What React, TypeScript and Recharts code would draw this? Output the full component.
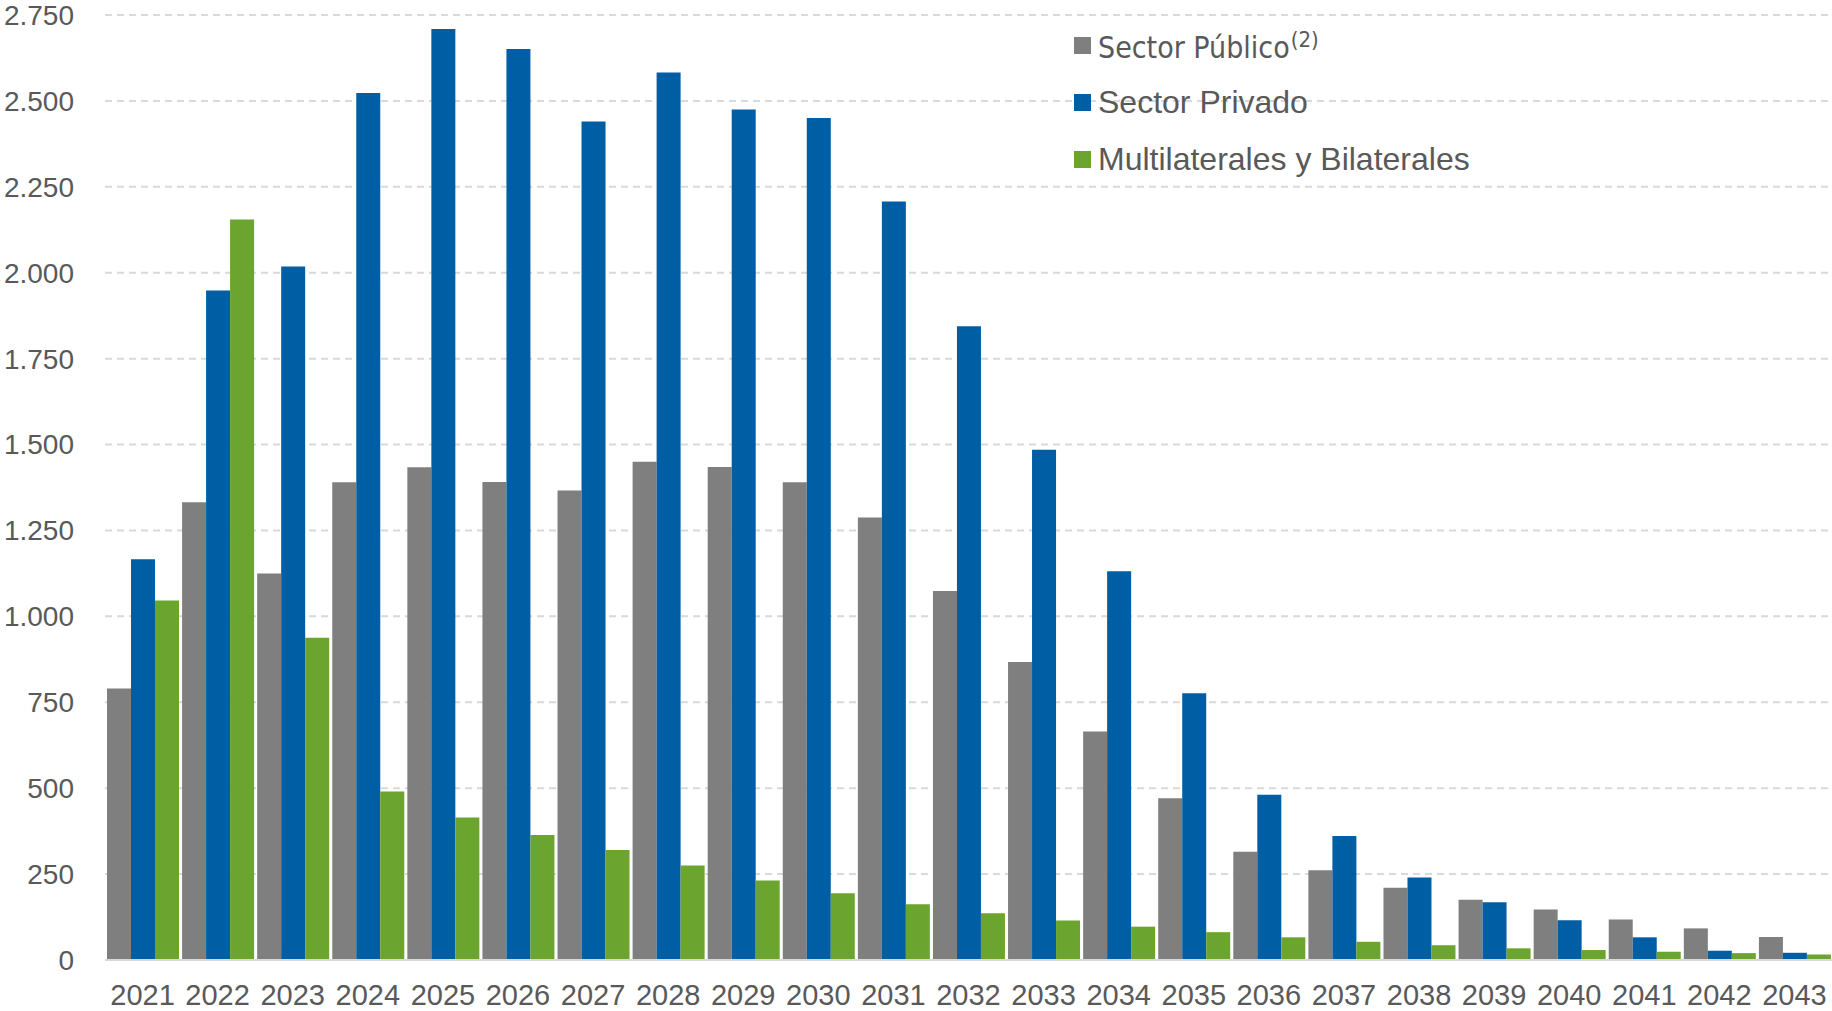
import React from 'react'
import { BarChart, Bar, XAxis, YAxis, CartesianGrid, Legend } from 'recharts'

const years = ['2021', '2022', '2023', '2024', '2025', '2026', '2027', '2028', '2029', '2030', '2031', '2032', '2033', '2034', '2035', '2036', '2037', '2038', '2039', '2040', '2041', '2042', '2043']
const sectorPublico = [790, 1332, 1125, 1390, 1434, 1391, 1366, 1450, 1435, 1390, 1288, 1074, 867, 665, 471, 315, 261, 210, 175, 147, 118, 92, 67]
const sectorPrivado = [1166, 1948, 2018, 2523, 2709, 2651, 2440, 2583, 2475, 2450, 2207, 1844, 1485, 1131, 776, 481, 361, 240, 168, 116, 66, 27, 21]
const multilaterales = [1046, 2155, 938, 490, 415, 364, 320, 275, 231, 194, 162, 136, 115, 97, 81, 66, 53, 43, 34, 29, 24, 20, 16]
const yTicks = [0, 250, 500, 750, 1000, 1250, 1500, 1750, 2000, 2250, 2500, 2750]

const GRAY = '#7f7f7f'
const BLUE = '#005ea5'
const GREEN = '#6ba42f'
const TEXT = '#595959'

const data = years.map((year, i) => ({
  year,
  publico: sectorPublico[i],
  privado: sectorPrivado[i],
  multi: multilaterales[i],
}))

// 2750 -> "2.750"
const fmt = (v: number) => String(v).replace(/\B(?=(\d{3})+(?!\d))/g, '.')

const legendItems = [
  { key: 'publico', color: GRAY },
  { key: 'privado', color: BLUE },
  { key: 'multi', color: GREEN },
]

function renderLegend() {
  return (
    <div>
      {legendItems.map(item => (
        <div key={item.key} style={{ display: 'flex', alignItems: 'center', height: 57 }}>
          <span style={{ display: 'inline-block', width: 17, height: 17, background: item.color, marginRight: 7 }} />
          {item.key === 'publico' ? (
            <span style={{ fontFamily: "'Liberation Sans Narrow', 'DejaVu Sans Condensed', 'Liberation Sans', sans-serif", fontSize: 30, color: TEXT, whiteSpace: 'nowrap', position: 'relative', top: 2 }}>
              Sector Público
              <span style={{ fontSize: 22, position: 'relative', top: -11, marginLeft: 1 }}>(2)</span>
            </span>
          ) : (
            <span style={{ fontFamily: "'Liberation Sans', Arial, sans-serif", fontSize: 32, color: TEXT, whiteSpace: 'nowrap' }}>
              {item.key === 'privado' ? 'Sector Privado' : 'Multilaterales y Bilaterales'}
            </span>
          )}
        </div>
      ))}
    </div>
  )
}

export default function App() {
  return (
    <div style={{ position: 'absolute', left: 0, top: 0, width: 1832, height: 1011, background: '#fff' }}>
      <BarChart
        width={1832}
        height={1011}
        data={data}
        margin={{ top: 15, right: 0, bottom: 0, left: 0 }}
        barCategoryGap={2}
        barGap={0}
      >
        <CartesianGrid vertical={false} stroke="#d9d9d9" strokeWidth={2} strokeDasharray="7 5" />
        <XAxis
          dataKey="year"
          height={51}
          interval={0}
          tickLine={false}
          axisLine={{ stroke: '#d9d9d9', strokeWidth: 2 }}
          tickMargin={18}
          tick={{ fill: TEXT, fontSize: 29, fontFamily: "'Liberation Sans', Arial, sans-serif" }}
        />
        <YAxis
          width={105}
          domain={[0, 2750]}
          ticks={yTicks}
          interval={0}
          tickFormatter={fmt}
          axisLine={false}
          tickLine={false}
          tickMargin={25}
          tick={{ fill: TEXT, fontSize: 28, fontFamily: "'Liberation Sans', Arial, sans-serif" }}
        />
        <Legend
          layout="vertical"
          align="center"
          verticalAlign="middle"
          content={renderLegend}
          wrapperStyle={{ left: 1074, top: 17, width: 'auto' }}
        />
        <Bar dataKey="publico" name="Sector Público" fill={GRAY} isAnimationActive={false} />
        <Bar dataKey="privado" name="Sector Privado" fill={BLUE} isAnimationActive={false} />
        <Bar dataKey="multi" name="Multilaterales y Bilaterales" fill={GREEN} isAnimationActive={false} />
      </BarChart>
    </div>
  )
}
